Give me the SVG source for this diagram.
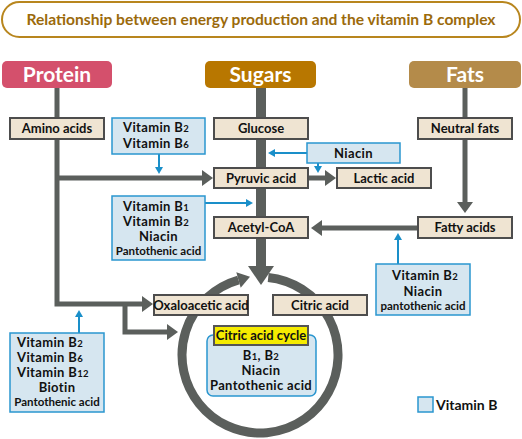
<svg xmlns="http://www.w3.org/2000/svg" width="522" height="439" viewBox="0 0 522 439">
<style>
text{font-family:Lato,"Open Sans","Liberation Sans",sans-serif;font-weight:bold;fill:#111}
.title{fill:#9b6a0b;font-size:15.6px}
.hdr{fill:#fff;font-size:21px;font-weight:bold}
.bx{fill:#efe4d2;stroke:#4d4d4d;stroke-width:2}
.vb{fill:#d6e6f0;stroke:#2a96cf;stroke-width:1.5}
.lbl{font-size:13px}
.vt{font-size:13px;letter-spacing:0.35px}
.sm{font-size:11.5px}
.sub{font-size:9.5px}
.g{fill:none;stroke:#5b5f5c;stroke-width:5}
.b{fill:none;stroke:#1a8fc9;stroke-width:2}
</style>
<defs>
<marker id="ga" markerUnits="userSpaceOnUse" markerWidth="12" markerHeight="16" refX="0" refY="8" orient="auto"><path d="M0,0 L11,8 L0,16 z" fill="#5b5f5c"/></marker>
<marker id="ba" markerUnits="userSpaceOnUse" markerWidth="8" markerHeight="8" refX="0" refY="4" orient="auto"><path d="M0,0 L7,4 L0,8 z" fill="#1a8fc9"/></marker>
</defs>
<g id="title">
<rect x="2" y="2" width="518" height="35" rx="17.5" fill="#fff" stroke="#b8861e" stroke-width="2"/>
<text class="title" x="261" y="25" text-anchor="middle">Relationship between energy production and the vitamin B complex</text>
</g>
<g id="connectors">
<path class="g" d="M57,88 V304 H142" marker-end="url(#ga)"/>
<path class="g" d="M125,304 V332 H167" marker-end="url(#ga)"/>
<path class="g" d="M57,178 H202" marker-end="url(#ga)"/>
<path class="g" d="M308,178 H325" marker-end="url(#ga)"/>
<path class="g" d="M465,88 V202" marker-end="url(#ga)"/>
<path class="g" d="M418,228 H322" marker-end="url(#ga)"/>
<path d="M261,88 V268" fill="none" stroke="#5b5f5c" stroke-width="10"/>
<polygon points="248,266 274,266 261,285" fill="#5b5f5c"/>
<path d="M268.2,277.4 A78,78 0 1 1 238.5,280" fill="none" stroke="#5b5f5c" stroke-width="9"/>
<polygon points="236.3,272.3 240.7,287.7 250,276.7" fill="#5b5f5c"/>
<path class="b" d="M159,154 V167" marker-end="url(#ba)"/>
<path class="b" d="M307,153 H275" marker-end="url(#ba)"/>
<path class="b" d="M318,163 V166" marker-end="url(#ba)"/>
<path class="b" d="M205,203 H246" marker-end="url(#ba)"/>
<path class="b" d="M398,264 V240" marker-end="url(#ba)"/>
<path class="b" d="M79,333 V317" marker-end="url(#ba)"/>
</g>
<g id="protein"><rect x="2" y="61" width="110" height="27" rx="5" fill="#d4506c"/><text class="hdr" x="57" y="82" text-anchor="middle">Protein</text></g>
<g id="sugars"><rect x="205" y="61" width="111" height="27" rx="5" fill="#b87700"/><text class="hdr" x="260.5" y="82" text-anchor="middle">Sugars</text></g>
<g id="fats"><rect x="409" y="61" width="112" height="27" rx="5" fill="#b48b4a"/><text class="hdr" x="465" y="82" text-anchor="middle">Fats</text></g>
<g id="amino"><rect class="bx" x="10" y="118" width="94" height="21"/><text class="lbl" x="57" y="133" text-anchor="middle">Amino acids</text></g>
<g id="glucose"><rect class="bx" x="214" y="118" width="94" height="21"/><text class="lbl" x="261" y="133" text-anchor="middle">Glucose</text></g>
<g id="neutral"><rect class="bx" x="418" y="118" width="94" height="21"/><text class="lbl" x="465" y="133" text-anchor="middle">Neutral fats</text></g>
<g id="pyruvic"><rect class="bx" x="214" y="168" width="94" height="20"/><text class="lbl" x="261" y="183" text-anchor="middle">Pyruvic acid</text></g>
<g id="lactic"><rect class="bx" x="337" y="168" width="94" height="20"/><text class="lbl" x="384" y="183" text-anchor="middle">Lactic acid</text></g>
<g id="acetyl"><rect class="bx" x="214" y="217" width="94" height="21"/><text class="lbl" x="261" y="232" text-anchor="middle">Acetyl-CoA</text></g>
<g id="fatty"><rect class="bx" x="418" y="217" width="94" height="21"/><text class="lbl" x="465" y="232" text-anchor="middle">Fatty acids</text></g>
<g id="oxalo"><rect class="bx" x="154" y="295" width="94" height="20"/><text class="lbl" x="201" y="310" text-anchor="middle">Oxaloacetic acid</text></g>
<g id="citric"><rect class="bx" x="273" y="295" width="94" height="20"/><text class="lbl" x="320" y="310" text-anchor="middle">Citric acid</text></g>
<g id="vit1"><rect class="vb" x="112" y="118" width="93" height="36"/>
<text class="vt" x="123" y="132">Vitamin B<tspan class="sub">2</tspan></text>
<text class="vt" x="123" y="147.5">Vitamin B<tspan class="sub">6</tspan></text></g>
<g id="niacin"><rect class="vb" x="307" y="143" width="93" height="20"/><text class="vt" x="353.5" y="158" text-anchor="middle">Niacin</text></g>
<g id="vit2"><rect class="vb" x="112" y="196" width="93" height="64"/>
<text class="vt" x="123" y="211">Vitamin B<tspan class="sub">1</tspan></text>
<text class="vt" x="123" y="226">Vitamin B<tspan class="sub">2</tspan></text>
<text class="vt" x="158.5" y="241" text-anchor="middle">Niacin</text>
<text class="sm" x="158.5" y="255" text-anchor="middle">Pantothenic acid</text></g>
<g id="vit3"><rect class="vb" x="376" y="264" width="94" height="51"/>
<text class="vt" x="392" y="280">Vitamin B<tspan class="sub">2</tspan></text>
<text class="vt" x="423" y="295.5" text-anchor="middle">Niacin</text>
<text class="sm" x="423" y="309.5" text-anchor="middle">pantothenic acid</text></g>
<g id="vit4"><rect class="vb" x="10" y="333" width="94" height="79"/>
<text class="vt" x="17" y="346.5">Vitamin B<tspan class="sub">2</tspan></text>
<text class="vt" x="17" y="361.5">Vitamin B<tspan class="sub">6</tspan></text>
<text class="vt" x="17" y="376.5">Vitamin B<tspan class="sub">12</tspan></text>
<text class="vt" x="57" y="391.5" text-anchor="middle">Biotin</text>
<text class="sm" x="57" y="406" text-anchor="middle">Pantothenic acid</text></g>
<g id="cycle">
<rect x="207" y="335" width="109" height="61" rx="6" fill="#d6e6f0" stroke="#2a96cf" stroke-width="1.5"/>
<rect x="214" y="326" width="94" height="19" fill="#f5eb00" stroke="#555" stroke-width="2"/>
<text class="lbl" x="261" y="340" text-anchor="middle">Citric acid cycle</text>
<text class="vt" x="261" y="359.5" text-anchor="middle">B<tspan class="sub">1</tspan>, B<tspan class="sub">2</tspan></text>
<text class="vt" x="261" y="374.5" text-anchor="middle">Niacin</text>
<text class="vt" x="261" y="390" text-anchor="middle">Pantothenic acid</text>
</g>
<g id="legend"><rect class="vb" x="418" y="397" width="15" height="15" stroke-width="2"/><text x="436" y="410" font-size="14">Vitamin B</text></g>
</svg>
